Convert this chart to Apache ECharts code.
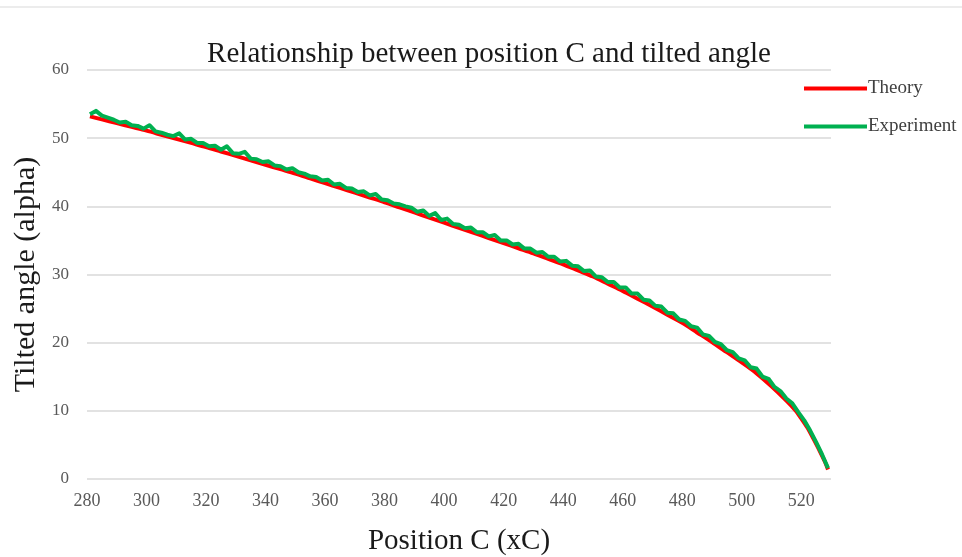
<!DOCTYPE html>
<html>
<head>
<meta charset="utf-8">
<script src="https://cdn.jsdelivr.net/npm/echarts@6/dist/echarts.min.js"></script>
<style>
  html, body { margin: 0; padding: 0; background: #ffffff; }
  #chart { width: 962px; height: 557px; }
</style>
</head>
<body>
<div id="chart"></div>
<script>
// Position C (xC) for the theoretical curve
const theoryX = [281, 285, 290, 295, 300, 305, 310, 315, 320, 325, 330, 335, 340, 345, 350,
  355, 360, 365, 370, 375, 380, 385, 390, 395, 400, 405, 410, 415, 420, 425, 430, 435, 440,
  445, 450, 455, 460, 465, 470, 475, 480, 485, 490, 495, 500, 505, 510, 515, 518, 520, 522,
  524, 526, 528, 529];
// Tilted angle (alpha), theory
const theoryY = [53.2, 52.75, 52.2, 51.65, 51.1, 50.5, 49.9, 49.3, 48.7, 48.05, 47.4, 46.75,
  46.1, 45.45, 44.8, 44.1, 43.4, 42.7, 42.0, 41.3, 40.6, 39.85, 39.1, 38.35, 37.6, 36.85,
  36.1, 35.35, 34.6, 33.85, 33.1, 32.3, 31.5, 30.6, 29.7, 28.65, 27.6, 26.45, 25.3, 24.1,
  22.9, 21.5, 20.1, 18.6, 17.1, 15.5, 13.6, 11.5, 10.1, 8.9, 7.6, 6.0, 4.3, 2.5, 1.4];

// Position C (xC) for the measured samples
const experimentX = [281, 283, 285, 287, 289, 291, 293, 295, 297, 299, 301, 303, 305, 307, 309,
  311, 313, 315, 317, 319, 321, 323, 325, 327, 329, 331, 333, 335, 337, 339, 341, 343, 345,
  347, 349, 351, 353, 355, 357, 359, 361, 363, 365, 367, 369, 371, 373, 375, 377, 379, 381,
  383, 385, 387, 389, 391, 393, 395, 397, 399, 401, 403, 405, 407, 409, 411, 413, 415, 417,
  419, 421, 423, 425, 427, 429, 431, 433, 435, 437, 439, 441, 443, 445, 447, 449, 451, 453,
  455, 457, 459, 461, 463, 465, 467, 469, 471, 473, 475, 477, 479, 481, 483, 485, 487, 489,
  491, 493, 495, 497, 499, 501, 503, 505, 507, 509, 511, 513, 515, 517, 519, 521, 523, 525,
  527, 529];
// Tilted angle (alpha), measured
const experimentY = [53.5, 54.0, 53.3, 53.0, 52.7, 52.3, 52.4, 51.9, 51.8, 51.4, 51.9, 51.0,
  50.8, 50.5, 50.3, 50.7, 49.8, 49.9, 49.3, 49.3, 48.8, 48.9, 48.3, 48.8, 47.8, 47.7, 48.0,
  47.0, 46.9, 46.5, 46.6, 46.0, 45.9, 45.4, 45.6, 45.0, 44.8, 44.4, 44.3, 43.8, 43.9, 43.2,
  43.3, 42.7, 42.6, 42.1, 42.2, 41.6, 41.8, 41.0, 40.9, 40.4, 40.3, 40.0, 39.8, 39.2, 39.4,
  38.6, 39.0, 38.0, 38.2, 37.4, 37.3, 36.8, 36.9, 36.2, 36.2, 35.6, 35.8, 35.0, 35.0, 34.4,
  34.5, 33.8, 33.8, 33.2, 33.3, 32.6, 32.6, 31.9, 32.0, 31.3, 31.2, 30.5, 30.6, 29.7, 29.6,
  28.9, 28.9, 28.1, 28.1, 27.2, 27.2, 26.3, 26.2, 25.4, 25.3, 24.4, 24.3, 23.4, 23.2, 22.4,
  22.2, 21.2, 21.0, 20.1, 19.8, 18.9, 18.6, 17.7, 17.4, 16.4, 16.2, 15.0, 14.7, 13.5, 12.9,
  11.8, 11.1, 9.8, 8.6, 7.1, 5.4, 3.6, 1.6];

const seriesNames = ['Theory', 'Experiment'];

const serif = '"Liberation Serif", "Times New Roman", serif';
const zip = (xs, ys) => xs.map((x, i) => [x, ys[i]]);

const chart = echarts.init(document.getElementById('chart'));
chart.setOption({
  backgroundColor: '#ffffff',
  animation: false,
  title: {
    text: 'Relationship between position C and tilted angle',
    left: 484,
    textAlign: 'center',
    top: 35,
    textStyle: { fontFamily: serif, fontSize: 29, fontWeight: 'normal', color: '#1a1a1a' }
  },
  legend: {
    orient: 'vertical',
    left: 799,
    top: 74,
    itemWidth: 63,
    itemHeight: 4,
    itemGap: 19,
    icon: 'rect',
    data: seriesNames,
    textStyle: { fontFamily: serif, fontSize: 19, color: '#404040', padding: [0, 0, 0, -4] }
  },
  graphic: [{
    type: 'rect',
    shape: { x: 0, y: 6, width: 962, height: 2 },
    style: { fill: '#ececec' },
    silent: true
  }],
  grid: { left: 87, right: 131, top: 70, bottom: 78, containLabel: false, outerBoundsMode: 'none' },
  xAxis: {
    type: 'value',
    min: 280,
    max: 530,
    interval: 20,
    name: 'Position C (xC)',
    nameLocation: 'middle',
    nameGap: 48,
    nameTextStyle: { fontFamily: serif, fontSize: 29, color: '#1a1a1a' },
    axisLine: { show: false },
    axisTick: { show: false },
    splitLine: { show: false },
    axisLabel: { fontFamily: serif, fontSize: 18, color: '#595959', margin: 13, showMaxLabel: false }
  },
  yAxis: {
    type: 'value',
    min: 0,
    max: 60,
    interval: 10,
    name: 'Tilted angle (alpha)',
    nameLocation: 'middle',
    nameGap: 39,
    nameTextStyle: { fontFamily: serif, fontSize: 30, color: '#1a1a1a' },
    axisLine: { show: false },
    axisTick: { show: false },
    splitLine: { lineStyle: { color: '#d9d9d9', width: 1.5 } },
    axisLabel: { fontFamily: serif, fontSize: 17, color: '#595959', margin: 18 }
  },
  series: [
    {
      name: seriesNames[0],
      type: 'line',
      data: zip(theoryX, theoryY),
      showSymbol: false,
      smooth: 0.3,
      color: '#ff0000',
      lineStyle: { width: 4, color: '#ff0000' },
      z: 2
    },
    {
      name: seriesNames[1],
      type: 'line',
      data: zip(experimentX, experimentY),
      showSymbol: false,
      color: '#00b050',
      lineStyle: { width: 4, color: '#00b050', join: 'round' },
      z: 3
    }
  ]
});
</script>
</body>
</html>
